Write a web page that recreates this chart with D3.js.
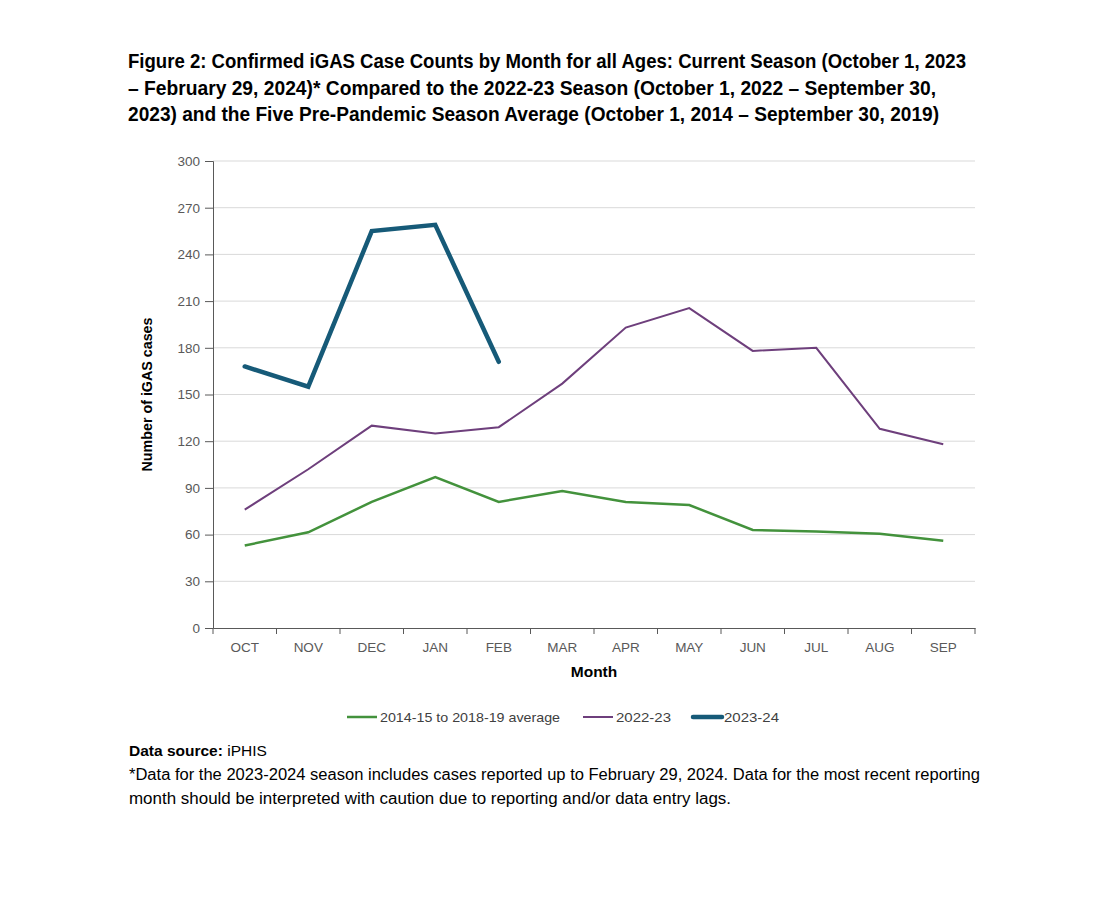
<!DOCTYPE html>
<html><head><meta charset="utf-8">
<script src="https://cdn.jsdelivr.net/npm/d3@7"></script>
<style>
html,body{margin:0;padding:0;background:#fff;}
svg{display:block;font-family:"Open Sans","Liberation Sans",sans-serif;}
</style></head>
<body><svg id="chart" width="1100" height="906"></svg>
<script>
const months = ["OCT","NOV","DEC","JAN","FEB","MAR","APR","MAY","JUN","JUL","AUG","SEP"];
const avgValues = [53,61.5,81,97,81,88,81,79,63,62,60.5,56];
const s2223Values = [76,102,130,125,129,157,193,205.5,178,180,128,118];
const s2324Values = [168,155,255,259,171];
const yTicks = [0,30,60,90,120,150,180,210,240,270,300];
const seriesNames = ["2014-15 to 2018-19 average","2022-23","2023-24"];
const titleLines = [
 "Figure 2: Confirmed iGAS Case Counts by Month for all Ages: Current Season (October 1, 2023",
 "– February 29, 2024)* Compared to the 2022-23 Season (October 1, 2022 – September 30,",
 "2023) and the Five Pre-Pandemic Season Average (October 1, 2014 – September 30, 2019)"
];

(function(){
const svg = d3.select("#chart");
const pL = 213, pR = 975, pT = 161, pB = 628;
const x = d3.scaleBand().domain(months).range([pL, pR]);
const y = d3.scaleLinear().domain([0,300]).range([pB, pT]);
const FF = "'Liberation Sans',Arial,sans-serif";

// title
const titleWidths = [838, 808, 811];
titleLines.forEach((t,i)=>{
  svg.append("text").attr("x",128).attr("y",68+i*26.5)
    .attr("font-family",FF)
    .attr("font-weight","bold").attr("font-size",20).attr("fill","#000")
    .attr("textLength",titleWidths[i]).attr("lengthAdjust","spacingAndGlyphs")
    .text(t);
});

// gridlines
svg.append("g").selectAll("line").data(yTicks.filter(d=>d>0)).join("line")
  .attr("x1",pL).attr("x2",pR).attr("y1",d=>y(d)).attr("y2",d=>y(d))
  .attr("stroke","#d9d9d9").attr("stroke-width",1);

// y axis
const yAxis = svg.append("g").attr("transform",`translate(${pL},0)`)
  .call(d3.axisLeft(y).tickValues(yTicks).tickSize(8).tickPadding(5));
yAxis.select(".domain").attr("stroke","#595959");
yAxis.selectAll(".tick line").attr("stroke","#595959");
yAxis.selectAll("text").attr("font-size",13.5).attr("fill","#595959").attr("font-family",FF);

// x axis
const xAxis = svg.append("g").attr("transform",`translate(0,${pB})`)
  .call(d3.axisBottom(x).tickSize(0).tickPadding(14));
xAxis.select(".domain").attr("stroke","#595959");
xAxis.selectAll("text").attr("font-size",13.5).attr("fill","#595959").attr("font-family",FF);
const bounds = months.map(m=>x(m)).concat([pR]);
svg.append("g").selectAll("line").data(bounds).join("line")
  .attr("x1",d=>d).attr("x2",d=>d).attr("y1",pB).attr("y2",pB+6)
  .attr("stroke","#595959");

// axis titles
svg.append("text").attr("transform",`translate(152,${(pT+pB)/2}) rotate(-90)`)
  .attr("text-anchor","middle").attr("font-weight","bold").attr("font-size",15.5)
  .attr("font-family",FF)
  .attr("textLength",154).attr("lengthAdjust","spacingAndGlyphs")
  .text("Number of iGAS cases");
svg.append("text").attr("x",594).attr("y",677).attr("text-anchor","middle")
  .attr("font-weight","bold").attr("font-size",15.5).attr("font-family",FF)
  .text("Month");

// lines
const cx = m => x(m) + x.bandwidth()/2;
const line = d3.line().x((d,i)=>cx(months[i])).y(d=>y(d));
const colors = ["#43923c","#6e3f7c","#165a78"];
const widths = [2.5,2,4.5];
[avgValues, s2223Values, s2324Values].forEach((vals,k)=>{
  svg.append("path").datum(vals).attr("d",line).attr("fill","none")
    .attr("stroke",colors[k]).attr("stroke-width",widths[k])
    .attr("stroke-linejoin","miter").attr("stroke-linecap", k===2?"round":"butt");
});

// legend
const legendItems = [
  {x1:347,x2:377,tx:380,tw:180},
  {x1:583,x2:613,tx:616,tw:55},
  {x1:693,x2:722,tx:724,tw:55}
];
legendItems.forEach((l,k)=>{
  svg.append("line").attr("x1",l.x1).attr("x2",l.x2).attr("y1",717).attr("y2",717)
    .attr("stroke",colors[k]).attr("stroke-width",widths[k]).attr("stroke-linecap",k===2?"round":"butt");
  svg.append("text").attr("x",l.tx).attr("y",722).attr("font-size",13.5).attr("fill","#404040")
    .attr("font-family",FF)
    .attr("textLength",l.tw).attr("lengthAdjust","spacingAndGlyphs")
    .text(seriesNames[k]);
});

// footnotes
const fn = svg.append("text").attr("x",129).attr("y",756).attr("font-size",15.5)
  .attr("font-family",FF).attr("fill","#000");
fn.append("tspan").attr("font-weight","bold").text("Data source: ");
fn.append("tspan").text("iPHIS");
svg.append("text").attr("x",129).attr("y",780).attr("font-size",16)
  .attr("font-family",FF)
  .attr("textLength",851).attr("lengthAdjust","spacingAndGlyphs")
  .text("*Data for the 2023-2024 season includes cases reported up to February 29, 2024. Data for the most recent reporting");
svg.append("text").attr("x",129).attr("y",804).attr("font-size",16)
  .attr("font-family",FF)
  .attr("textLength",602).attr("lengthAdjust","spacingAndGlyphs")
  .text("month should be interpreted with caution due to reporting and/or data entry lags.");
})();
</script></body></html>
